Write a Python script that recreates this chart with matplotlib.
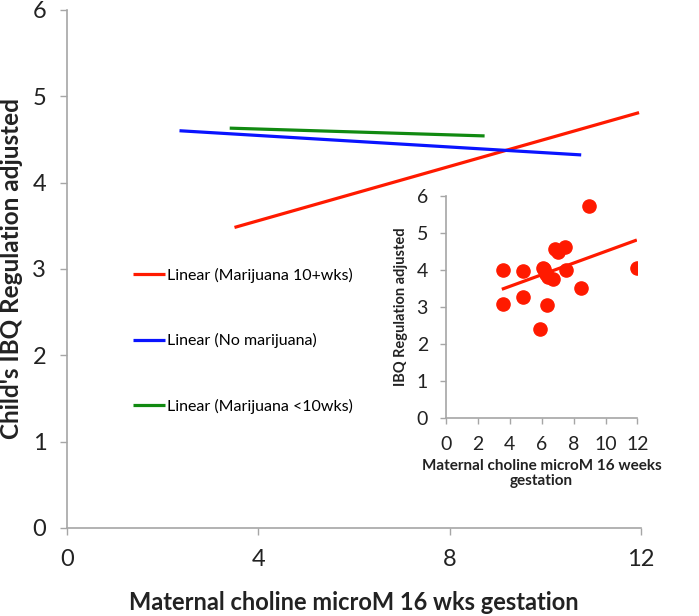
import matplotlib.pyplot as plt

plt.rcParams['font.family'] = ['Lato', 'DejaVu Sans']

# trend line endpoints
red_x = [3.5, 11.96]
red_y = [3.48, 4.81]
blue_x = [2.35, 10.75]
blue_y = [4.60, 4.32]
green_x = [3.4, 8.73]
green_y = [4.63, 4.54]

labels = ['Linear (Marijuana 10+wks)', 'Linear (No marijuana)', 'Linear (Marijuana <10wks)']

# inset scatter (marijuana 10+ wks group)
pts_x = [3.56, 3.56, 4.85, 4.85, 6.1, 6.14, 6.27, 6.41, 6.69, 5.9, 6.35,
         6.83, 7.04, 7.46, 7.52, 8.44, 8.98, 11.98]
pts_y = [3.99, 3.08, 3.97, 3.28, 4.06, 4.03, 3.9, 3.81, 3.77, 2.42, 3.06,
         4.57, 4.48, 4.63, 3.99, 3.52, 5.73, 4.06]

RED = '#ff1a00'
BLUE = '#0a14ff'
GREEN = '#118a11'
AX = '#a6a6a6'

fig = plt.figure(figsize=(6.99, 6.16), dpi=100)
ax = fig.add_axes([0.096, 0.143, 0.821, 0.841])

l1, = ax.plot(red_x, red_y, color=RED, lw=2.3, solid_capstyle='butt')
l2, = ax.plot(blue_x, blue_y, color=BLUE, lw=2.3, solid_capstyle='butt')
l3, = ax.plot(green_x, green_y, color=GREEN, lw=2.3, solid_capstyle='butt')

ax.set_xlim(0, 12)
ax.set_ylim(0, 6)
ax.set_xticks([0, 4, 8, 12])
ax.set_yticks(range(0, 7))
for s in ['top', 'right']:
    ax.spines[s].set_visible(False)
for s in ['left', 'bottom']:
    ax.spines[s].set_color(AX)
    ax.spines[s].set_linewidth(1.2)
ax.tick_params(colors=AX, labelcolor='#222222', labelsize=17, length=5, width=1, pad=10)
ax.set_xlabel('Maternal choline microM 16 wks gestation', fontsize=17,
              fontweight='bold', labelpad=15, color='#222222')
ax.set_ylabel("Child's IBQ Regulation adjusted", fontsize=17.5,
              fontweight='bold', labelpad=7, color='#222222')

leg = ax.legend([l1, l2, l3], labels, loc='upper left', bbox_to_anchor=(0.09, 0.53),
                frameon=False, fontsize=11.5, labelspacing=3.15, handlelength=2.0,
                handletextpad=0.1)

# inset
ins = fig.add_axes([0.638, 0.321, 0.274, 0.361])
ins.scatter(pts_x, pts_y, s=90, color=RED, zorder=3)
ins.plot(red_x, red_y, color=RED, lw=2.3, solid_capstyle='butt')
ins.set_xlim(0, 12)
ins.set_ylim(0, 6)
ins.set_xticks(range(0, 13, 2))
ins.set_yticks(range(0, 7))
for s in ['top', 'right']:
    ins.spines[s].set_visible(False)
for s in ['left', 'bottom']:
    ins.spines[s].set_color(AX)
    ins.spines[s].set_linewidth(1.2)
ins.tick_params(colors=AX, labelcolor='#222222', labelsize=14, length=4, width=1, pad=9)
ins.set_xlabel('Maternal choline microM 16 weeks\ngestation', fontsize=11,
               fontweight='bold', labelpad=4, color='#222222', linespacing=1.1)
ins.set_ylabel('IBQ Regulation adjusted', fontsize=10.5, fontweight='bold',
               labelpad=6, color='#222222')

fig.savefig('out.png', dpi=100)
